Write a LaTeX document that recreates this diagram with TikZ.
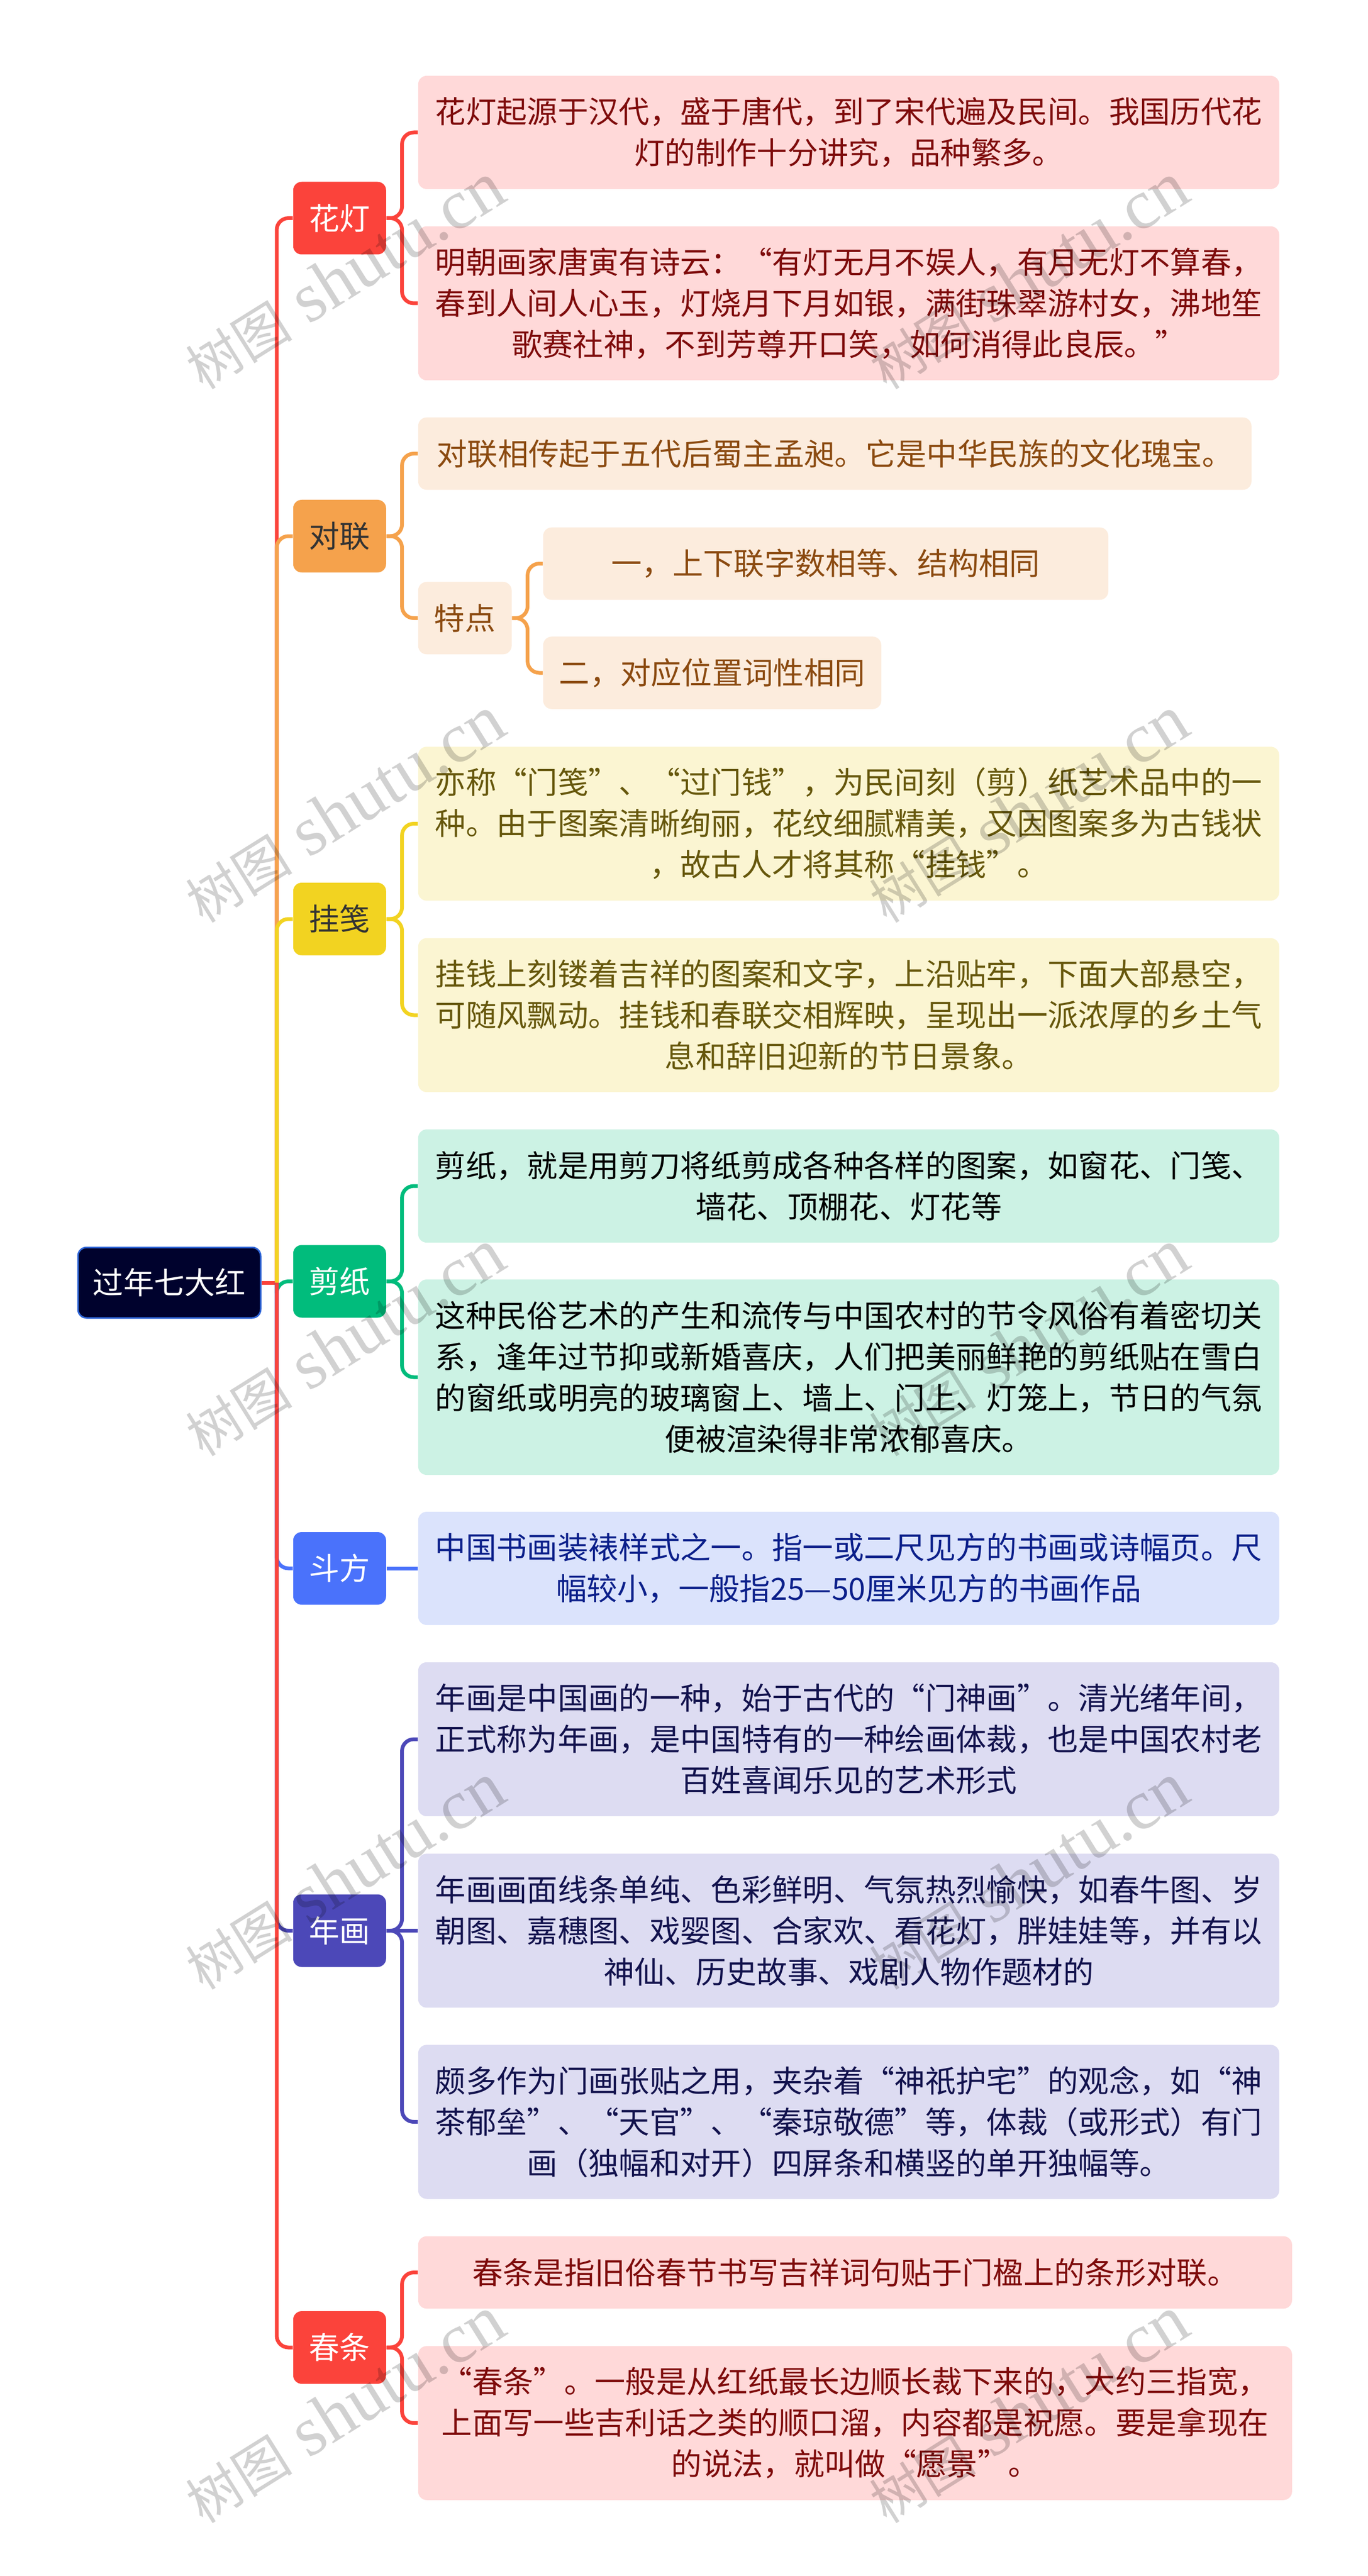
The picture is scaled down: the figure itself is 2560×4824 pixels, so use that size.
\documentclass[tikz,border=0pt]{standalone}
\usepackage{fontspec}
\setmainfont{Noto Sans CJK SC}
\newfontfamily\wmfont{Liberation Serif}
\newfontfamily\wmcjk{Noto Sans CJK SC}
\definecolor{redfill}{HTML}{FB433B}
\definecolor{redleaffill}{HTML}{FFD9D9}
\definecolor{redtext}{HTML}{7E0B0B}
\definecolor{orangefill}{HTML}{F5A24C}
\definecolor{orangeleaffill}{HTML}{FCECDD}
\definecolor{orangetext}{HTML}{8B4A10}
\definecolor{yellowfill}{HTML}{F2D321}
\definecolor{yellowleaffill}{HTML}{FBF5D2}
\definecolor{yellowtext}{HTML}{66570C}
\definecolor{greenfill}{HTML}{01BC7C}
\definecolor{greenleaffill}{HTML}{CCF2E4}
\definecolor{bluefill}{HTML}{4A72FB}
\definecolor{blueleaffill}{HTML}{DBE3FC}
\definecolor{bluetext}{HTML}{0B1F8A}
\definecolor{purplefill}{HTML}{4C48B8}
\definecolor{purpleleaffill}{HTML}{DDDCF2}
\definecolor{purpletext}{HTML}{12124D}
\definecolor{rootfill}{HTML}{00022D}
\definecolor{rootline}{HTML}{2F66D8}
\tikzset{%
	basebox/.style  = {rectangle, rounded corners=4pt, inner sep=0pt, align=center,
		anchor=west, font=\fontsize{14.33}{19.25}\selectfont},
	topic/.style    = {basebox, minimum width=43.5pt, minimum height=34pt, text=white},
	leaf/.style     = {basebox, minimum width=403pt},
	oneline/.style  = {minimum height=33.9pt},
	twoline/.style  = {minimum height=53pt},
	threeline/.style= {minimum height=72.1pt},
	fourline/.style = {minimum height=91.5pt},
	conn/.style     = {line width=1.75pt, rounded corners=5.5pt},
	redleaf/.style  = {leaf, fill=redleaffill, text=redtext},
	orangeleaf/.style = {leaf, fill=orangeleaffill, text=orangetext},
	yellowleaf/.style = {leaf, fill=yellowleaffill, text=yellowtext},
	greenleaf/.style  = {leaf, fill=greenleaffill, text=black},
	blueleaf/.style   = {leaf, fill=blueleaffill, text=bluetext},
	purpleleaf/.style = {leaf, fill=purpleleaffill, text=purpletext},
	wmark/.style    = {text=black, opacity=0.18, rotate=32, inner sep=0pt,
		font=\wmfont\fontsize{33}{33}\selectfont}
}
\begin{document}
\begin{tikzpicture}[x=0.25pt,y=-0.25pt]
	\useasboundingbox (0,0) rectangle (2560,4824);

	\node[basebox, fill=rootfill, draw=rootline, line width=0.75pt, text=white,
		minimum width=85.5pt, minimum height=33pt] (root) at (144.5,2402) {过年七大红};
	\coordinate (trunk) at (518,2402);

	\node[topic, fill=redfill] (hd) at (548,408.5) {花灯};
	\node[redleaf, twoline] (hd1) at (782,248) {花灯起源于汉代，盛于唐代，到了宋代遍及民间。我国历代花\\灯的制作十分讲究，品种繁多。};
	\node[redleaf, threeline] (hd2) at (782,568) {明朝画家唐寅有诗云：“有灯无月不娱人，有月无灯不算春，\\春到人间人心玉，灯烧月下月如银，满街珠翠游村女，沸地笙\\歌赛社神，不到芳尊开口笑，如何消得此良辰。”};

	\node[topic, fill=orangefill, text=black!80] (dl) at (548,1004) {对联};
	\node[orangeleaf, oneline, minimum width=390pt] (dl1) at (782,849.5) {对联相传起于五代后蜀主孟昶。它是中华民族的文化瑰宝。};
	\node[orangeleaf, oneline, minimum width=43.75pt] (td) at (782,1157.5) {特点};
	\node[orangeleaf, oneline, minimum width=264.5pt] (yi) at (1016,1055.5) {一，上下联字数相等、结构相同};
	\node[orangeleaf, oneline, minimum width=158.25pt] (er) at (1016,1260) {二，对应位置词性相同};

	\node[topic, fill=yellowfill, text=black!80] (gj) at (548,1721) {挂笺};
	\node[yellowleaf, threeline] (gj1) at (782,1542.5) {亦称“门笺”、“过门钱”，为民间刻（剪）纸艺术品中的一\\种。由于图案清晰绚丽，花纹细腻精美，又因图案多为古钱状\\，故古人才将其称“挂钱”。};
	\node[yellowleaf, threeline] (gj2) at (782,1901) {挂钱上刻镂着吉祥的图案和文字，上沿贴牢，下面大部悬空，\\可随风飘动。挂钱和春联交相辉映，呈现出一派浓厚的乡土气\\息和辞旧迎新的节日景象。};

	\node[topic, fill=greenfill] (jz) at (548,2399.5) {剪纸};
	\node[greenleaf, twoline] (jz1) at (782,2221) {剪纸，就是用剪刀将纸剪成各种各样的图案，如窗花、门笺、\\墙花、顶棚花、灯花等};
	\node[greenleaf, fourline] (jz2) at (782,2579) {这种民俗艺术的产生和流传与中国农村的节令风俗有着密切关\\系，逢年过节抑或新婚喜庆，人们把美丽鲜艳的剪纸贴在雪白\\的窗纸或明亮的玻璃窗上、墙上、门上、灯笼上，节日的气氛\\便被渲染得非常浓郁喜庆。};

	\node[topic, fill=bluefill] (df) at (548,2937) {斗方};
	\node[blueleaf, twoline] (df1) at (782,2937) {中国书画装裱样式之一。指一或二尺见方的书画或诗幅页。尺\\幅较小，一般指25—50厘米见方的书画作品};

	\node[topic, fill=purplefill] (nh) at (548,3615.5) {年画};
	\node[purpleleaf, threeline] (nh1) at (782,3257) {年画是中国画的一种，始于古代的“门神画”。清光绪年间，\\正式称为年画，是中国特有的一种绘画体裁，也是中国农村老\\百姓喜闻乐见的艺术形式};
	\node[purpleleaf, threeline] (nh2) at (782,3615.5) {年画画面线条单纯、色彩鲜明、气氛热烈愉快，如春牛图、岁\\朝图、嘉穗图、戏婴图、合家欢、看花灯，胖娃娃等，并有以\\神仙、历史故事、戏剧人物作题材的};
	\node[purpleleaf, threeline] (nh3) at (782,3973.5) {颇多作为门画张贴之用，夹杂着“神祇护宅”的观念，如“神\\茶郁垒”、“天官”、“秦琼敬德”等，体裁（或形式）有门\\画（独幅和对开）四屏条和横竖的单开独幅等。};

	\node[topic, fill=redfill] (cj) at (548,4396) {春条};
	\node[redleaf, oneline, minimum width=409pt] (cj1) at (782,4255.5) {春条是指旧俗春节书写吉祥词句贴于门楹上的条形对联。};
	\node[redleaf, threeline, minimum width=409pt] (cj2) at (782,4537.5) {“春条”。一般是从红纸最长边顺长裁下来的，大约三指宽，\\上面写一些吉利话之类的顺口溜，内容都是祝愿。要是拿现在\\的说法，就叫做“愿景”。};

	% trunk, later branches lie over earlier ones
	\draw[conn, redfill] (root.east) -- (trunk);
	\draw[conn, redfill] (trunk) |- (hd.west);
	\draw[conn, orangefill] (trunk) |- (dl.west);
	\draw[conn, yellowfill] (trunk) |- (gj.west);
	\draw[conn, greenfill] (trunk) |- (jz.west);
	\draw[conn, bluefill] (trunk) |- (df.west);
	\draw[conn, purplefill] (trunk) |- (nh.west);
	\draw[conn, redfill] (trunk) |- (cj.west);

	\draw[conn, redfill] (hd.east) -- ++(29,0) |- (hd1.west);
	\draw[conn, redfill] (hd.east) -- ++(29,0) |- (hd2.west);
	\draw[conn, orangefill] (dl.east) -- ++(29,0) |- (dl1.west);
	\draw[conn, orangefill] (dl.east) -- ++(29,0) |- (td.west);
	\draw[conn, orangefill] (td.east) -- ++(29,0) |- (yi.west);
	\draw[conn, orangefill] (td.east) -- ++(29,0) |- (er.west);
	\draw[conn, yellowfill] (gj.east) -- ++(29,0) |- (gj1.west);
	\draw[conn, yellowfill] (gj.east) -- ++(29,0) |- (gj2.west);
	\draw[conn, greenfill] (jz.east) -- ++(29,0) |- (jz1.west);
	\draw[conn, greenfill] (jz.east) -- ++(29,0) |- (jz2.west);
	\draw[conn, bluefill] (df.east) -- (df1.west);
	\draw[conn, purplefill] (nh.east) -- ++(29,0) |- (nh1.west);
	\draw[conn, purplefill] (nh.east) -- (nh2.west);
	\draw[conn, purplefill] (nh.east) -- ++(29,0) |- (nh3.west);
	\draw[conn, redfill] (cj.east) -- ++(29,0) |- (cj1.west);
	\draw[conn, redfill] (cj.east) -- ++(29,0) |- (cj2.west);

	\foreach \wy in {517,1516,2515,3514,4513}
		\foreach \wx in {645,1925}
			\node[wmark] (wm-\wx-\wy) at (\wx,\wy) {{\wmcjk\fontsize{25}{25}\selectfont 树图} shutu.cn};
\end{tikzpicture}
\end{document}
